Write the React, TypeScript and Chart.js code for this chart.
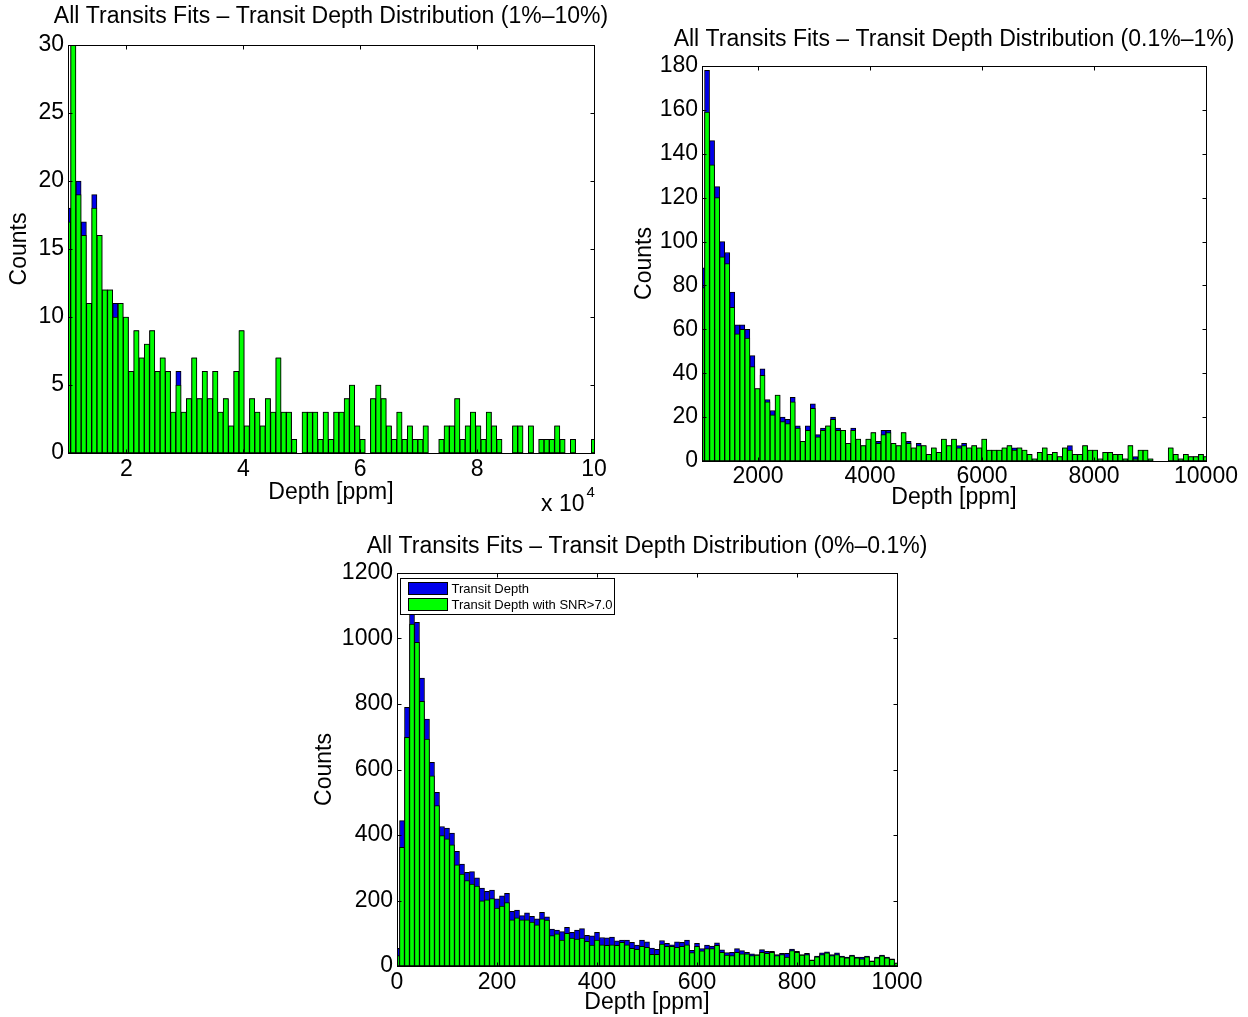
import React, { useEffect, useRef } from "react";
import { Chart, registerables } from "chart.js";
Chart.register(...registerables);

const FONT = '"Liberation Sans", Arial, Helvetica, sans-serif';
const FONT_SIZE = 23;
const BLUE = "rgb(0,0,235)";
const GREEN = "rgb(0,255,0)";

// ---------- Panel 1 : 1%–10% (bins of 900 ppm from 10000) ----------
const bin1Start = 10000;
const bin1Width = 900;
const all1 = [18, 30, 20, 17, 11, 19, 16, 12, 12, 11, 11, 10, 6, 9, 7, 8, 9, 6, 7, 6, 3, 6, 3, 4, 7, 4, 6, 4, 6, 3, 4, 2, 6, 9, 2, 4, 3, 2, 4, 3, 7, 3, 3, 1, 0, 3, 3, 3, 1, 3, 1, 3, 3, 4, 5, 2, 1, 0, 4, 5, 4, 2, 1, 3, 1, 2, 1, 1, 2, 0, 0, 1, 2, 2, 4, 1, 2, 3, 2, 1, 3, 2, 1, 0, 0, 2, 2, 0, 2, 0, 1, 1, 1, 2, 1, 0, 1, 0, 0, 0, 1];
const snr1 = [17, 30, 19, 16, 11, 18, 16, 12, 12, 10, 11, 10, 6, 9, 7, 8, 9, 6, 7, 6, 3, 5, 3, 4, 7, 4, 6, 4, 6, 3, 4, 2, 6, 9, 2, 4, 3, 2, 4, 3, 7, 3, 3, 1, 0, 3, 3, 3, 1, 3, 1, 3, 3, 4, 5, 2, 1, 0, 4, 5, 4, 2, 1, 3, 1, 2, 1, 1, 2, 0, 0, 1, 2, 2, 4, 1, 2, 3, 2, 1, 3, 2, 1, 0, 0, 2, 2, 0, 2, 0, 1, 1, 1, 2, 1, 0, 1, 0, 0, 0, 1];
const xTicks1 = [20000, 40000, 60000, 80000, 100000];
const yTicks1 = [0, 5, 10, 15, 20, 25, 30];

// ---------- Panel 2 : 0.1%–1% (bins of 90 ppm from 1000) ----------
const bin2Start = 1000;
const bin2Width = 90;
const all2 = [88, 178, 146, 125, 100, 95, 77, 62, 62, 60, 48, 33, 42, 28, 23, 30, 20, 19, 29, 16, 9, 16, 26, 12, 15, 16, 20, 15, 14, 8, 15, 10, 7, 10, 13, 9, 14, 14, 8, 7, 13, 9, 6, 8, 7, 3, 6, 4, 10, 7, 10, 7, 8, 6, 7, 6, 10, 5, 5, 5, 6, 7, 6, 6, 5, 3, 1, 4, 6, 3, 4, 2, 6, 7, 3, 3, 7, 5, 5, 1, 4, 4, 3, 3, 1, 7, 2, 5, 5, 1, 0, 0, 0, 6, 3, 1, 3, 2, 2, 3, 2];
const snr2 = [79, 159, 135, 120, 93, 90, 70, 58, 60, 56, 43, 33, 39, 27, 21, 30, 18, 17, 27, 15, 9, 14, 24, 11, 14, 16, 19, 14, 14, 8, 14, 10, 7, 10, 13, 8, 12, 13, 8, 7, 13, 8, 6, 7, 7, 3, 6, 4, 10, 7, 10, 6, 7, 6, 7, 6, 10, 5, 5, 5, 6, 7, 5, 6, 5, 3, 1, 4, 6, 3, 4, 2, 6, 5, 3, 3, 7, 5, 5, 1, 4, 4, 3, 3, 1, 7, 1, 5, 5, 1, 0, 0, 0, 6, 3, 1, 3, 2, 2, 3, 2];
const xTicks2 = [2000, 4000, 6000, 8000, 10000];
const yTicks2 = [0, 20, 40, 60, 80, 100, 120, 140, 160, 180];

// ---------- Panel 3 : 0%–0.1% (bins of 10 ppm from 0) ----------
const bin3Start = 0;
const bin3Width = 10;
const all3 = [54, 444, 790, 1075, 1049, 879, 754, 622, 530, 426, 421, 406, 350, 311, 286, 288, 269, 238, 228, 232, 205, 214, 222, 167, 171, 154, 162, 152, 144, 164, 150, 113, 110, 105, 118, 103, 110, 114, 94, 92, 103, 87, 86, 88, 77, 79, 79, 72, 64, 79, 74, 55, 51, 78, 69, 65, 74, 72, 79, 48, 69, 53, 64, 61, 71, 49, 41, 42, 53, 47, 42, 37, 35, 50, 45, 45, 35, 39, 39, 52, 45, 35, 39, 19, 30, 40, 43, 35, 40, 30, 27, 33, 27, 27, 30, 16, 27, 33, 27, 22, 10];
const snr3 = [32, 362, 698, 1044, 988, 808, 693, 581, 490, 398, 388, 370, 309, 281, 261, 250, 244, 199, 202, 206, 177, 183, 194, 141, 147, 141, 141, 134, 126, 144, 140, 93, 98, 79, 100, 85, 82, 85, 75, 64, 79, 65, 63, 65, 63, 72, 65, 54, 51, 60, 57, 36, 36, 67, 60, 60, 57, 60, 65, 41, 60, 46, 53, 53, 63, 42, 33, 32, 42, 37, 37, 32, 33, 42, 39, 42, 32, 35, 27, 47, 42, 33, 35, 17, 28, 35, 40, 32, 35, 28, 25, 31, 25, 22, 28, 14, 25, 31, 25, 20, 9];
const xTicks3 = [0, 200, 400, 600, 800, 1000];
const yTicks3 = [0, 200, 400, 600, 800, 1000, 1200];

const seriesNames = ["Transit Depth", "Transit Depth with SNR>7.0"];

type PanelCfg = {
  left: number; top: number; width: number; height: number;
  title: string; titleY: number; padRight: number; padTop: number;
  yWidth: number; yTitlePad: number; xHeight: number; xTickPad: number; xTitlePad: number;
  start: number; step: number; all: number[]; snr: number[];
  xMin: number; xMax: number; xTicks: number[]; yTicks: number[];
  xFmt: (v: number) => string; legend?: boolean; exponent?: boolean;
};

const framePlugin = {
  id: "matlabFrame",
  afterDatasetsDraw(chart: any) {
    const { ctx, chartArea: a, scales } = chart;
    const L = 4;
    const l = Math.round(a.left) + 0.5, r = Math.round(a.right) + 0.5;
    const t = Math.round(a.top) + 0.5, b = Math.round(a.bottom) + 0.5;
    ctx.save();
    ctx.strokeStyle = "#000";
    ctx.lineWidth = 1;
    ctx.strokeRect(l, t, r - l, b - t);
    ctx.beginPath();
    scales.x.ticks.forEach((tk: any) => {
      const x = Math.round(scales.x.getPixelForValue(tk.value)) + 0.5;
      ctx.moveTo(x, b); ctx.lineTo(x, b - L);
      ctx.moveTo(x, t); ctx.lineTo(x, t + L);
    });
    scales.y.ticks.forEach((tk: any) => {
      const y = Math.round(scales.y.getPixelForValue(tk.value)) + 0.5;
      ctx.moveTo(l, y); ctx.lineTo(l + L, y);
      ctx.moveTo(r, y); ctx.lineTo(r - L, y);
    });
    ctx.stroke();
    ctx.restore();
  },
};

// Axes title centred over the plot box (MATLAB style, never squeezed)
const titlePlugin = {
  id: "matlabTitle",
  afterDraw(chart: any) {
    const o = chart.options.plugins.matlabTitle;
    if (!o?.text) return;
    const { ctx, chartArea: a } = chart;
    ctx.save();
    ctx.fillStyle = "#000";
    ctx.font = `${FONT_SIZE}px ${FONT}`;
    ctx.textAlign = "center";
    ctx.textBaseline = "middle";
    ctx.fillText(o.text, (a.left + a.right) / 2, o.y);
    ctx.restore();
  },
};

const legendPlugin = {
  id: "matlabLegend",
  afterDraw(chart: any) {
    if (!chart.options.plugins.matlabLegend?.show) return;
    const { ctx, chartArea: a } = chart;
    const bx = Math.round(a.left) + 3.5, by = Math.round(a.top) + 5.5;
    const bw = 214, bh = 36;
    ctx.save();
    ctx.fillStyle = "#fff";
    ctx.fillRect(bx, by, bw, bh);
    ctx.strokeStyle = "#000";
    ctx.lineWidth = 1;
    ctx.strokeRect(bx, by, bw, bh);
    chart.data.datasets.forEach((ds: any, i: number) => {
      const ry = by + 4 + i * 16;
      ctx.fillStyle = ds.backgroundColor;
      ctx.fillRect(bx + 8, ry, 39, 12);
      ctx.strokeRect(bx + 8, ry, 39, 12);
      ctx.fillStyle = "#000";
      ctx.font = `13px ${FONT}`;
      ctx.textBaseline = "middle";
      ctx.textAlign = "left";
      ctx.fillText(ds.label, bx + 51, ry + 6.5);
    });
    ctx.restore();
  },
};

const exponentPlugin = {
  id: "matlabExponent",
  afterDraw(chart: any) {
    if (!chart.options.plugins.matlabExponent?.show) return;
    const { ctx, chartArea: a } = chart;
    ctx.save();
    ctx.fillStyle = "#000";
    ctx.textBaseline = "middle";
    ctx.textAlign = "left";
    ctx.font = `${FONT_SIZE}px ${FONT}`;
    const x = a.right - 53;
    ctx.fillText("x 10", x, a.bottom + 52);
    const w = ctx.measureText("x 10").width;
    ctx.font = `15px ${FONT}`;
    ctx.fillText("4", x + w + 2, a.bottom + 40);
    ctx.restore();
  },
};

function Panel({ cfg }: { cfg: PanelCfg }) {
  const ref = useRef<HTMLCanvasElement>(null);
  useEffect(() => {
    const font = { family: FONT, size: FONT_SIZE };
    const mk = (vals: number[]) => vals.map((y, i) => ({ x: cfg.start + cfg.step * i, y }));
    const common = {
      borderColor: "#000",
      borderWidth: 1,
      borderSkipped: false,
      grouped: false,
      barPercentage: 1,
      categoryPercentage: 1,
      clip: 0,
    };
    const chart = new Chart(ref.current as HTMLCanvasElement, {
      type: "bar",
      data: {
        datasets: [
          { ...common, label: seriesNames[0], data: mk(cfg.all), backgroundColor: BLUE, order: 1 } as any,
          { ...common, label: seriesNames[1], data: mk(cfg.snr), backgroundColor: GREEN, order: 0 } as any,
        ],
      },
      options: {
        animation: false,
        responsive: false,
        layout: { padding: { left: 0, right: cfg.padRight, top: cfg.padTop, bottom: 0 } },
        plugins: {
          legend: { display: false },
          tooltip: { enabled: false },
          title: { display: false },
          matlabTitle: { text: cfg.title, y: cfg.titleY },
          matlabLegend: { show: !!cfg.legend },
          matlabExponent: { show: !!cfg.exponent },
        } as any,
        scales: {
          x: {
            type: "linear",
            min: cfg.xMin,
            max: cfg.xMax,
            offset: false,
            grid: { display: false, drawTicks: false, offset: false },
            border: { display: false },
            ticks: {
              autoSkip: false,
              maxRotation: 0,
              padding: cfg.xTickPad,
              color: "#000",
              font,
              callback: (v: any) => cfg.xFmt(Number(v)),
            },
            afterBuildTicks: (s: any) => { s.ticks = cfg.xTicks.map((v) => ({ value: v })); },
            afterFit: (s: any) => { s.height = cfg.xHeight; },
            title: { display: true, text: "Depth [ppm]", color: "#000", font, padding: { top: 0, bottom: cfg.xTitlePad } },
          },
          y: {
            type: "linear",
            min: 0,
            max: cfg.yTicks[cfg.yTicks.length - 1],
            grid: { display: false, drawTicks: false },
            border: { display: false },
            ticks: { autoSkip: false, padding: 4, color: "#000", font, callback: (v: any) => String(v) },
            afterBuildTicks: (s: any) => { s.ticks = cfg.yTicks.map((v) => ({ value: v })); },
            afterFit: (s: any) => { s.width = cfg.yWidth; },
            title: { display: true, text: "Counts", color: "#000", font, padding: { top: cfg.yTitlePad, bottom: 0 } },
          },
        },
      },
      plugins: [framePlugin, titlePlugin, legendPlugin, exponentPlugin],
    });
    return () => chart.destroy();
  }, [cfg]);
  return (
    <div style={{ position: "absolute", left: cfg.left, top: cfg.top, width: cfg.width, height: cfg.height }}>
      <canvas ref={ref} width={cfg.width} height={cfg.height} style={{ width: cfg.width, height: cfg.height, display: "block" }} />
    </div>
  );
}

const panels: PanelCfg[] = [
  {
    left: 0, top: 0, width: 620, height: 520,
    title: "All Transits Fits – Transit Depth Distribution (1%–10%)", titleY: 17,
    padRight: 26, padTop: 45,
    yWidth: 68, yTitlePad: 6.2, xHeight: 67, xTickPad: 3.2, xTitlePad: 13.2,
    start: bin1Start, step: bin1Width, all: all1, snr: snr1,
    xMin: 10000, xMax: 100000, xTicks: xTicks1, yTicks: yTicks1,
    xFmt: (v) => String(v / 10000), exponent: true,
  },
  {
    left: 625, top: 0, width: 623, height: 520,
    title: "All Transits Fits – Transit Depth Distribution (0.1%–1%)", titleY: 40,
    padRight: 42, padTop: 66,
    yWidth: 77, yTitlePad: 6.2, xHeight: 59, xTickPad: 2.2, xTitlePad: 8.2,
    start: bin2Start, step: bin2Width, all: all2, snr: snr2,
    xMin: 1000, xMax: 10000, xTicks: xTicks2, yTicks: yTicks2,
    xFmt: (v) => String(v),
  },
  {
    left: 290, top: 520, width: 660, height: 497,
    title: "All Transits Fits – Transit Depth Distribution (0%–0.1%)", titleY: 27,
    padRight: 53, padTop: 53,
    yWidth: 107, yTitlePad: 21.2, xHeight: 51, xTickPad: 3.2, xTitlePad: 0.2,
    start: bin3Start, step: bin3Width, all: all3, snr: snr3,
    xMin: 0, xMax: 1000, xTicks: xTicks3, yTicks: yTicks3,
    xFmt: (v) => String(v), legend: true,
  },
];

export default function App() {
  return (
    <div style={{ position: "absolute", left: 0, top: 0, width: 1248, height: 1017, background: "#fff", overflow: "hidden" }}>
      {panels.map((p, i) => (
        <Panel key={i} cfg={p} />
      ))}
    </div>
  );
}
